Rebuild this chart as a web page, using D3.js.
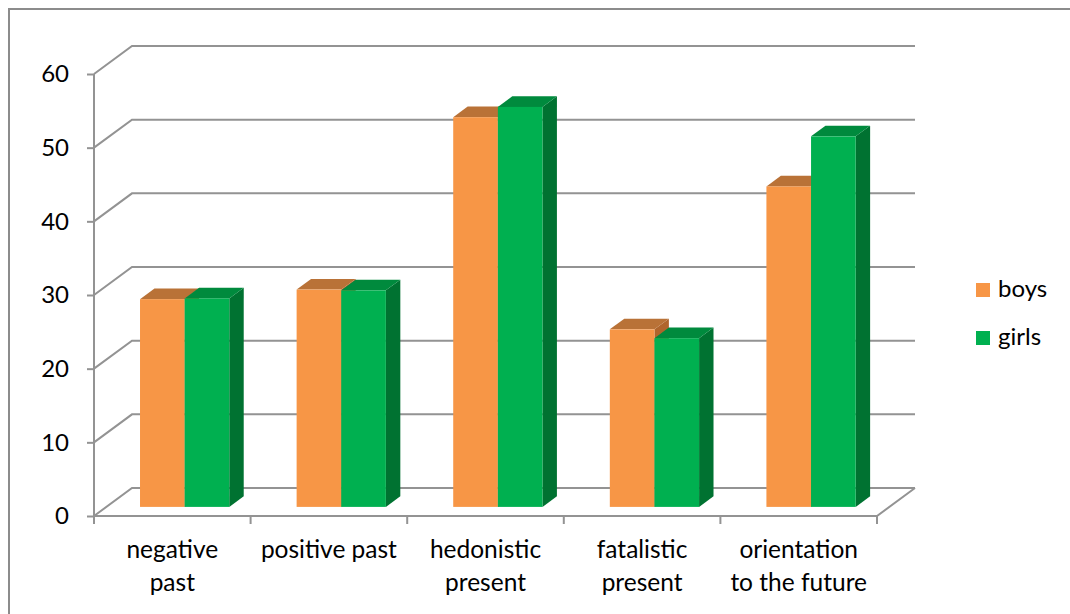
<!DOCTYPE html>
<html>
<head>
<meta charset="utf-8">
<script src="https://cdn.jsdelivr.net/npm/d3@7"></script>
<style>
  html, body { margin: 0; padding: 0; background: #fff; }
  svg { display: block; }
  text { font-family: Lato, "Open Sans", sans-serif; fill: #000; }
</style>
</head>
<body>
<svg id="chart" width="1070" height="614"></svg>
<script>
// Time perspective scores by gender
const categories = [
  ["negative", "past"],
  ["positive past"],
  ["hedonistic", "present"],
  ["fatalistic", "present"],
  ["orientation", "to the future"]
];
const seriesNames = ["boys", "girls"];
const boys  = [28.2, 29.5, 52.9, 24.1, 43.5];
const girls = [28.3, 29.4, 54.3, 22.9, 50.3];
const yTicks = [0, 10, 20, 30, 40, 50, 60];

const palette = {
  boys:  { front: "#f79646", top: "#b97237", side: "#b0652c" },
  girls: { front: "#00b050", top: "#008a3d", side: "#007231" }
};

const svg = d3.select("#chart");
const W = 1070, H = 614;

// outer frame of the chart area
svg.append("path")
  .attr("d", `M9,${H + 5}V9H${W + 5}`)
  .attr("fill", "none")
  .attr("stroke", "#8c8c8c")
  .attr("stroke-width", 2);

// plot geometry: front plane plus a receding depth offset
const plot = { left: 94, right: 877, top: 74, bottom: 516 };
const depth = { dx: 38, dy: -28 };
const gridStroke = "#939393";

const y = d3.scaleLinear().domain([0, 60]).range([plot.bottom, plot.top]);
const keys = categories.map((c, i) => i);
const x0 = d3.scaleBand().domain(keys).range([plot.left, plot.right])
  .paddingInner(0.43).paddingOuter(0.215);
const x1 = d3.scaleBand().domain(seriesNames).range([0, x0.bandwidth()]);

// project a front-plane point into the given depth fraction
const proj = (px, py, z) => [px + z * depth.dx, py + z * depth.dy];

// gridlines: short diagonal on the side wall, then across the back wall
const grid = svg.append("g");
yTicks.forEach(t => {
  const a = [plot.left, y(t)];
  const b = proj(plot.left, y(t), 1);
  const c = proj(plot.right, y(t), 1);
  grid.append("path")
    .attr("d", `M${a}L${b}L${c[0]},${c[1]}`)
    .attr("fill", "none")
    .attr("stroke", gridStroke)
    .attr("stroke-width", 2);
});

// floor outline: front edge and right edge
const fr = [plot.right, y(0)];
const br = proj(plot.right, y(0), 1);
svg.append("path")
  .attr("d", `M${plot.left},${y(0)}L${fr}L${br}`)
  .attr("fill", "none")
  .attr("stroke", gridStroke)
  .attr("stroke-width", 2);

// value axis
const yAxis = d3.axisLeft(y).tickValues(yTicks).tickSize(7).tickPadding(18);
const yg = svg.append("g")
  .attr("transform", `translate(${plot.left},0)`)
  .call(yAxis);
yg.select(".domain").attr("stroke", gridStroke).attr("stroke-width", 2)
  .attr("d", `M0,${y(0) + 8}V${y(60)}`);
yg.selectAll(".tick line").attr("stroke", gridStroke).attr("stroke-width", 2);
yg.selectAll(".tick text")
  .attr("fill", "#000")
  .style("font-family", "Lato, sans-serif")
  .style("font-size", "24px");

// category ticks on the front floor edge
const boundaries = keys.map(k => plot.left + k * x0.step()).concat([plot.right]);
svg.append("g").selectAll("line")
  .data(boundaries)
  .join("line")
  .attr("x1", d => d).attr("x2", d => d)
  .attr("y1", y(0)).attr("y2", y(0) + 8)
  .attr("stroke", gridStroke)
  .attr("stroke-width", 2);

// category labels
const labels = svg.append("g");
keys.forEach(k => {
  const mid = plot.left + (k + 0.5) * x0.step();
  const t = labels.append("text")
    .attr("x", mid)
    .attr("y", 558)
    .attr("text-anchor", "middle")
    .style("font-size", "24.5px");
  categories[k].forEach((line, i) => {
    t.append("tspan").attr("x", mid).attr("dy", i === 0 ? 0 : 32.5).text(line);
  });
});

// 3D bars
const barZ = 0.325;     // depth position of the bar front face
const barDepth = 0.38;  // depth of each bar
const seriesData = { boys, girls };
const bars = svg.append("g");
keys.forEach(k => {
  seriesNames.forEach(s => {
    const v = seriesData[s][k];
    const left = x0(k) + x1(s);
    const right = left + x1.bandwidth();
    const [fl, fb] = proj(left, y(0), barZ);
    const [frx] = proj(right, y(0), barZ);
    const ft = proj(left, y(v), barZ)[1];
    const ddx = barDepth * depth.dx, ddy = barDepth * depth.dy;
    const col = palette[s];
    // side face
    bars.append("path")
      .attr("d", `M${frx},${fb}L${frx + ddx},${fb + ddy}L${frx + ddx},${ft + ddy}L${frx},${ft}Z`)
      .attr("fill", col.side);
    // top face
    bars.append("path")
      .attr("d", `M${fl},${ft}L${fl + ddx},${ft + ddy}L${frx + ddx},${ft + ddy}L${frx},${ft}Z`)
      .attr("fill", col.top);
    // front face
    bars.append("rect")
      .attr("x", fl).attr("y", ft)
      .attr("width", frx - fl).attr("height", fb - ft)
      .attr("fill", col.front);
  });
});

// legend
const legend = svg.append("g");
seriesNames.forEach((s, i) => {
  const ly = 283 + i * 48;
  legend.append("rect")
    .attr("x", 976).attr("y", ly)
    .attr("width", 14).attr("height", 14)
    .attr("fill", palette[s].front);
  legend.append("text")
    .attr("x", 998).attr("y", ly + 14)
    .style("font-size", "24px")
    .text(s);
});
</script>
</body>
</html>
